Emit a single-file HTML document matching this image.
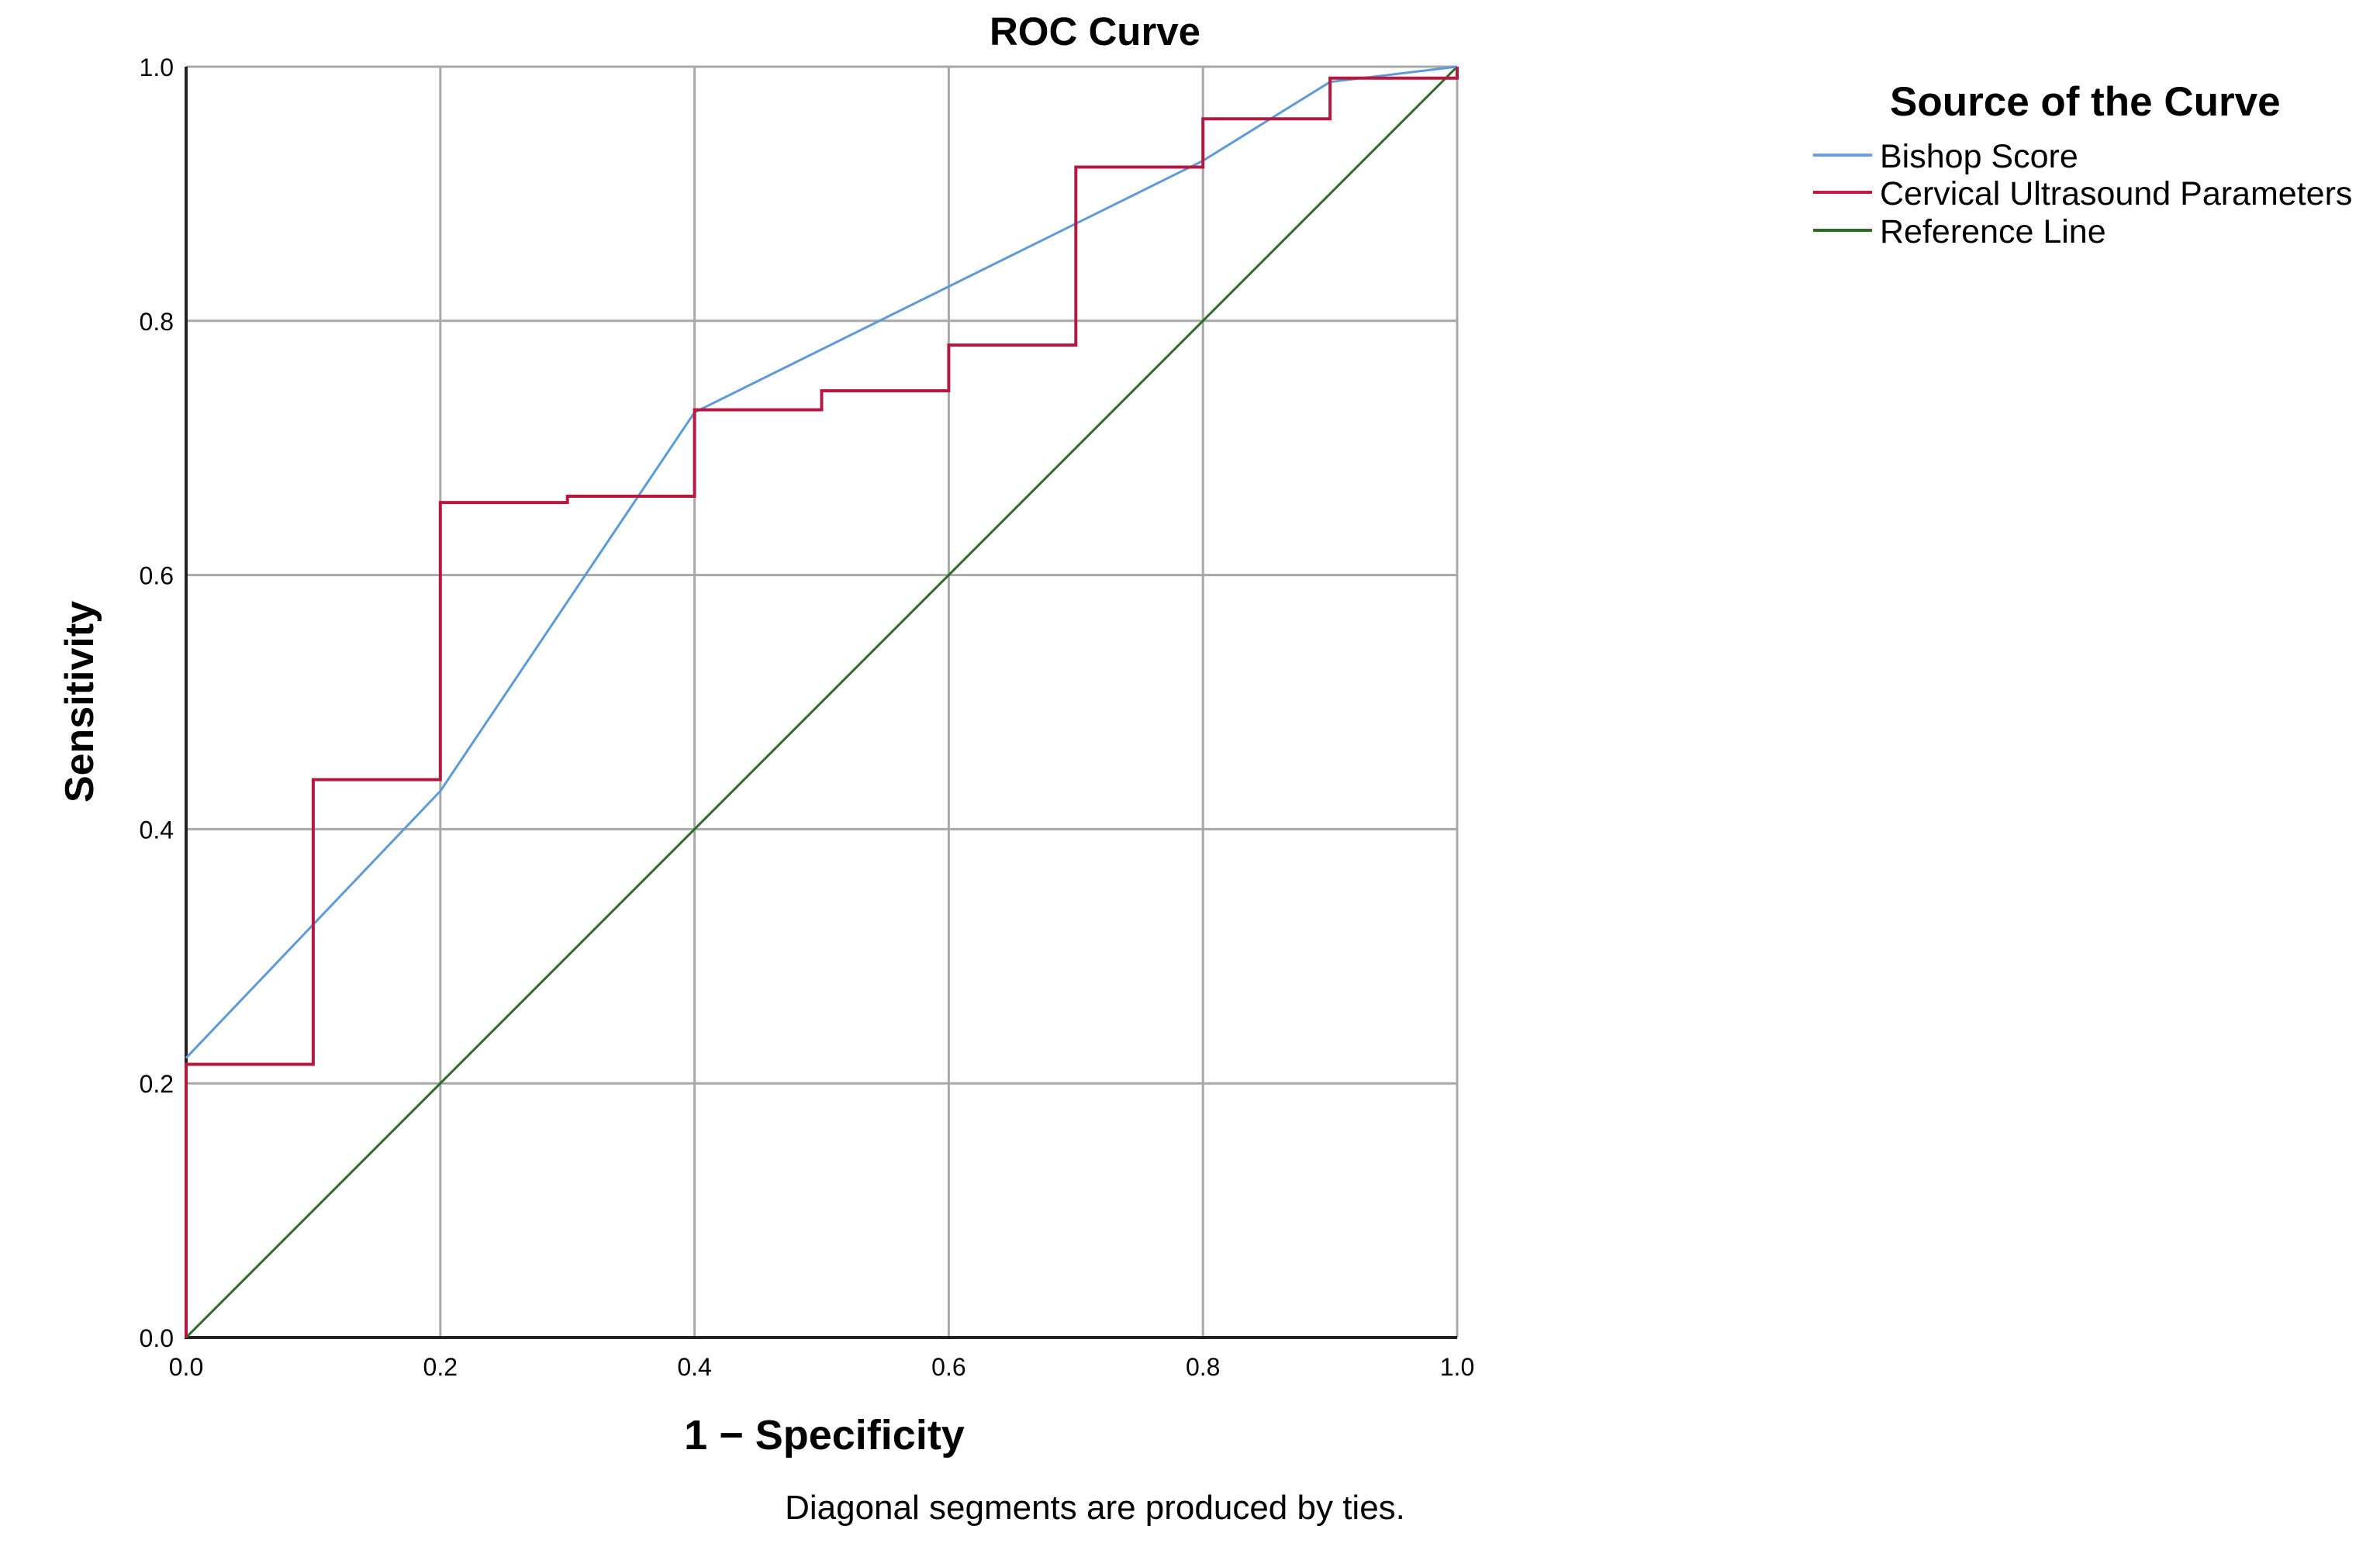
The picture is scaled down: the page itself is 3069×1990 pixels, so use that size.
<!DOCTYPE html>
<html><head><meta charset="utf-8"><style>
html,body{margin:0;padding:0;background:#fff;}
svg{display:block;}
text{font-family:"Liberation Sans","DejaVu Sans",sans-serif;fill:#000;}
</style></head><body>
<svg id="chart" width="3069" height="1990" viewBox="0 0 3069 1990" xmlns="http://www.w3.org/2000/svg">
<text x="1412" y="58" font-size="51" font-weight="bold" text-anchor="middle">ROC Curve</text>
<g id="grid"></g>
<g id="ticks"></g>
<g id="series"></g>
<text x="1063" y="1869" font-size="54" font-weight="bold" text-anchor="middle">1 − Specificity</text>
<text transform="translate(120,905) rotate(-90)" font-size="52" font-weight="bold" text-anchor="middle">Sensitivity</text>
<text x="1412" y="1959" font-size="44" text-anchor="middle">Diagonal segments are produced by ties.</text>
<g>
<text x="2437" y="149" font-size="53" font-weight="bold">Source of the Curve</text>
<g><line x1="2338" y1="200" x2="2414" y2="200" stroke="#6f9fd8" stroke-width="4"/><text x="2424" y="216" font-size="43">Bishop Score</text></g>
<g><line x1="2338" y1="248" x2="2414" y2="248" stroke="#c41a44" stroke-width="4"/><text x="2424" y="264" font-size="43">Cervical Ultrasound Parameters</text></g>
<g><line x1="2338" y1="297" x2="2414" y2="297" stroke="#2e6b2a" stroke-width="4"/><text x="2424" y="313" font-size="43">Reference Line</text></g>
</g>
</svg>
<script>
const xTicks = [0, 0.2, 0.4, 0.6, 0.8, 1.0];
const yTicks = [0, 0.2, 0.4, 0.6, 0.8, 1.0];
const tickLabels = ["0.0", "0.2", "0.4", "0.6", "0.8", "1.0"];
const bishopX = [0, 0.2, 0.4, 0.8, 0.9, 1.0];
const bishopY = [0.22, 0.43, 0.728, 0.926, 0.988, 1.0];
const cervX = [0, 0, 0.1, 0.1, 0.2, 0.2, 0.3, 0.3, 0.4, 0.4, 0.5, 0.5, 0.6, 0.6, 0.7, 0.7, 0.8, 0.8, 0.9, 0.9, 1.0, 1.0];
const cervY = [0, 0.215, 0.215, 0.439, 0.439, 0.657, 0.657, 0.662, 0.662, 0.730, 0.730, 0.745, 0.745, 0.781, 0.781, 0.921, 0.921, 0.959, 0.959, 0.991, 0.991, 1.0];
const refX = [0, 1];
const refY = [0, 1];

const L = 240, R = 1879, T = 86, B = 1725;
function sx(v){ return L + v * (R - L); }
function sy(v){ return B - v * (B - T); }
const NS = "http://www.w3.org/2000/svg";
function mk(tag, attrs, parent){ const e = document.createElementNS(NS, tag); for (const k in attrs) e.setAttribute(k, attrs[k]); parent.appendChild(e); return e; }
const grid = document.getElementById('grid');
const ticks = document.getElementById('ticks');
const series = document.getElementById('series');
xTicks.forEach((v, i) => {
  const g = mk('line', {x1: sx(v), y1: T, x2: sx(v), y2: B, stroke: '#a8a8a8', 'stroke-width': 3}, grid);
  
  
  const t = mk('text', {x: sx(v), y: 1774, 'font-size': 32, 'text-anchor': 'middle'}, ticks);
  t.textContent = tickLabels[i];
  
  
});
yTicks.forEach((v, i) => {
  const g = mk('line', {x1: L, y1: T, x2: R, y2: T, stroke: '#a8a8a8', 'stroke-width': 3}, grid);
  g.setAttribute('y1', sy(v));
  g.setAttribute('y2', sy(v));
  
  
  const t = mk('text', {x: 224, y: sy(v) + 12, 'font-size': 32, 'text-anchor': 'end'}, ticks);
  t.textContent = tickLabels[i];
  
  
});
const ax1 = mk('line', {x1: L, y1: T, x2: L, y2: B + 2, stroke: '#222', 'stroke-width': 4}, grid);


const ax2 = mk('line', {x1: L - 2, y1: B, x2: R, y2: B, stroke: '#222', 'stroke-width': 4}, grid);


function pts(xs, ys){ return xs.map((x, i) => sx(x) + ',' + sy(ys[i])).join(' '); }
const p3 = mk('polyline', {points: pts(refX, refY), fill: 'none', stroke: '#2e6b2a', 'stroke-width': 3}, series);


const p1 = mk('polyline', {points: pts(bishopX, bishopY), fill: 'none', stroke: '#5d9ad8', 'stroke-width': 3}, series);


const p2 = mk('polyline', {points: pts(cervX, cervY), fill: 'none', stroke: '#b81840', 'stroke-width': 4}, series);


</script>
</body></html>
